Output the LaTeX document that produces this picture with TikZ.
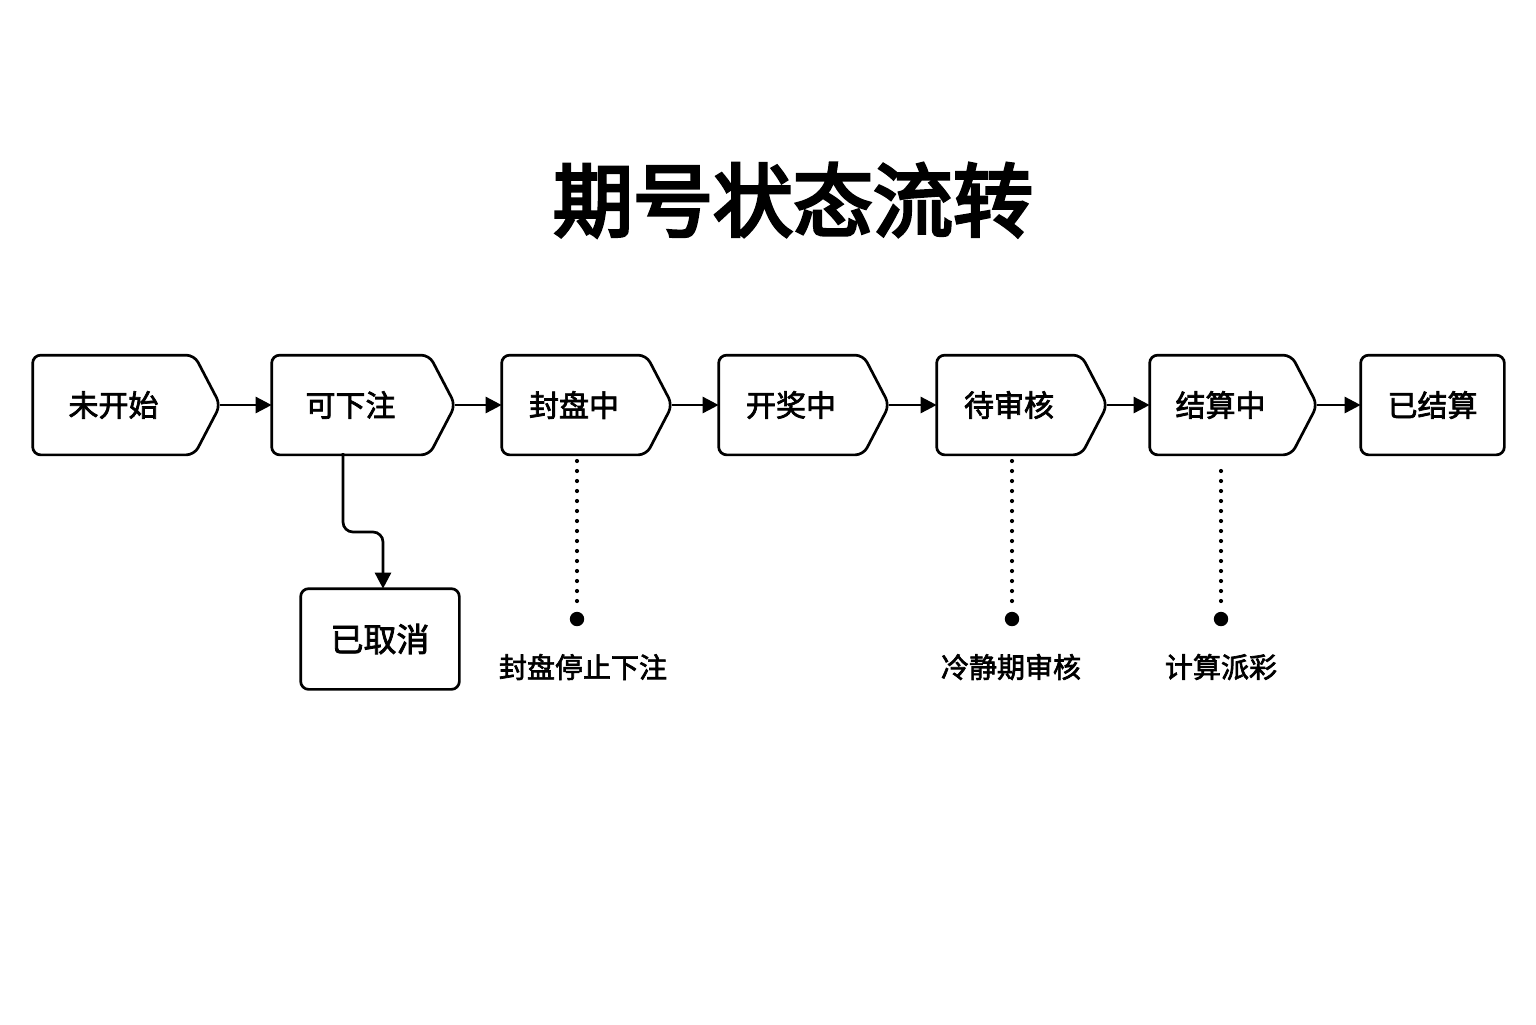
\documentclass[tikz,border=0pt]{standalone}
\usepackage{fontspec}
\setmainfont{Noto Sans CJK SC}
\newfontfamily\titlefont{Noto Sans CJK SC}[FakeBold=4]
\newfontfamily\medfont{Noto Sans CJK SC}[FakeBold=2.4]
\usetikzlibrary{arrows.meta,calc}
\begin{document}
\begin{tikzpicture}[x=0.5pt,y=-0.5pt,
  line width=1.35pt,
  flat/.style={minimum height=48.5pt,inner sep=0pt,font=\medfont\fontsize{15}{18}\selectfont},
  outline/.style={draw=black,line width=1.35pt,rounded corners=4pt},
  flow/.style={draw=black,line width=1.35pt,-{Triangle[length=8pt,width=8pt]}},
  dots/.style={draw=black,line width=2.1pt,line cap=round,dash pattern=on 0pt off 5pt},
  note/.style={font=\medfont\fontsize{14}{17}\selectfont}]
\useasboundingbox (0,0) rectangle (1536,1024);
\fill[white] (0,0) rectangle (1536,1024);
\node[font=\titlefont\fontsize{40}{48}\selectfont] (title) at (793,200) {期号状态流转};
% pentagon states: flat part as node, tip as coordinate
\def\tipd{26}
\node[flat,minimum width=79.5pt] (n1) at (113.5,405) {未开始};
\node[flat,minimum width=77.5pt] (n2) at (350.5,405) {可下注};
\node[flat,minimum width=71pt] (n3) at (574,405) {封盘中};
\node[flat,minimum width=71pt] (n4) at (791,405) {开奖中};
\node[flat,minimum width=71pt] (n5) at (1009,405) {待审核};
\node[flat,minimum width=69.5pt] (n6) at (1220.5,405) {结算中};
\node[flat,minimum width=70.5pt] (n7) at (1432.5,405) {已结算};
\foreach \i in {1,...,6}{
  \coordinate (t\i) at ($(n\i.east)+(\tipd,0)$);
  \draw[outline] (n\i.south west) -- (n\i.north west) -- (n\i.north east) -- (t\i) -- (n\i.south east) -- cycle;
}
\draw[outline] (n7.south west) rectangle (n7.north east);
\foreach \i/\j in {1/2,2/3,3/4,4/5,5/6,6/7}{
  \draw[flow] (t\i) -- (n\j.west);
}
% cancelled
\node[flat,minimum width=78pt,minimum height=49pt,font=\medfont\fontsize{16.5}{20}\selectfont] (c) at (380,639) {已取消};
\draw[outline] (c.south west) rectangle (c.north east);
\coordinate (b2) at (343,453);
\coordinate (k) at (383,532);
\draw[flow,rounded corners=5pt] (b2) |- (k) -- (c.north -| k);
% notes
\coordinate (d3) at (577,619);
\coordinate (d5) at (1012,619);
\coordinate (d6) at (1221,619);
\draw[dots] (577,461) -- ($(d3)+(0,-16)$);
\draw[dots] (1012,461) -- ($(d5)+(0,-16)$);
\draw[dots] (1221,471) -- ($(d6)+(0,-16)$);
\fill (d3) circle (3.6pt);
\fill (d5) circle (3.6pt);
\fill (d6) circle (3.6pt);
\node[note] (l3) at (583,667) {封盘停止下注};
\node[note] (l5) at (1011,667) {冷静期审核};
\node[note] (l6) at (1221,667) {计算派彩};
\end{tikzpicture}
\end{document}
